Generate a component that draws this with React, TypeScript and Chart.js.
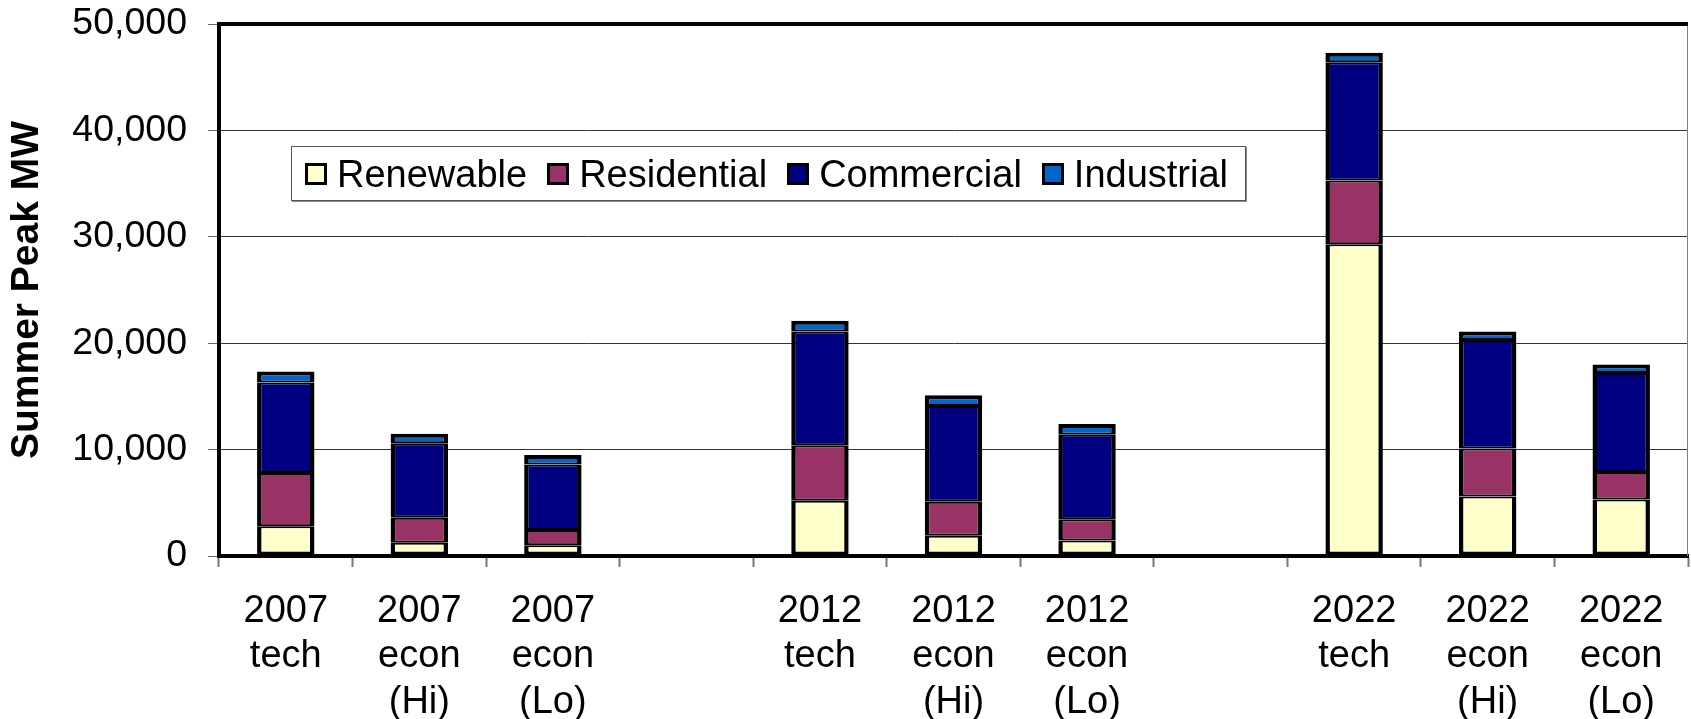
import React, { useEffect, useRef } from "react";
import { Chart, registerables } from "chart.js";

Chart.register(...registerables);

const categories: (string | string[])[] = [
  ["2007", "tech"],
  ["2007", "econ", "(Hi)"],
  ["2007", "econ", "(Lo)"],
  "",
  ["2012", "tech"],
  ["2012", "econ", "(Hi)"],
  ["2012", "econ", "(Lo)"],
  "",
  ["2022", "tech"],
  ["2022", "econ", "(Hi)"],
  ["2022", "econ", "(Lo)"],
];

const renewable = [2800, 1250, 1000, null, 5200, 1900, 1450, null, 29300, 5600, 5300];
const residential = [5000, 2350, 1450, null, 5200, 3200, 2000, null, 6000, 4500, 2600];
const commercial = [8500, 7000, 6150, null, 10700, 9000, 7950, null, 11100, 10200, 9300];
const industrial = [1050, 900, 900, null, 1000, 1000, 1000, null, 900, 800, 800];

const seriesNames = ["Renewable", "Residential", "Commercial", "Industrial"];
const seriesColors = ["#FFFFCC", "#993366", "#000080", "#0066CC"];

const yTicks = [0, 10000, 20000, 30000, 40000, 50000];
const yTitle = "Summer Peak MW";

const FONT = "'Liberation Sans', Arial, sans-serif";

const frame = {
  id: "frame",
  afterDraw(chart: any) {
    const { ctx, chartArea } = chart;
    const { left, top, right, bottom } = chartArea;
    ctx.save();
    ctx.strokeStyle = "#808080";
    ctx.lineWidth = 1;
    ctx.beginPath();
    ctx.moveTo(right - 0.5, top);
    ctx.lineTo(right - 0.5, bottom);
    ctx.stroke();
    ctx.strokeStyle = "#000";
    ctx.lineWidth = 4;
    ctx.beginPath();
    ctx.moveTo(left - 2, top);
    ctx.lineTo(right, top);
    ctx.stroke();
    ctx.restore();
  },
};

export default function App() {
  const ref = useRef<HTMLCanvasElement>(null);

  useEffect(() => {
    if (!ref.current) return;
    const series = [renewable, residential, commercial, industrial];
    const chart = new Chart(ref.current, {
      type: "bar",
      data: {
        labels: categories,
        datasets: series.map((d, i) => ({
          label: seriesNames[i],
          data: d,
          backgroundColor: seriesColors[i],
          borderColor: "#000",
          borderWidth: {
            top: i === 3 ? 4 : 2,
            bottom: i === 0 ? 4 : 2,
            left: 4.5,
            right: 4.5,
          },
          borderSkipped: false,
          barPercentage: 0.43,
          categoryPercentage: 1,
        })),
      },
      options: {
        responsive: false,
        animation: false,
        layout: { padding: { top: 24, right: 3, bottom: 0, left: 0 } },
        plugins: {
          legend: { display: false },
          tooltip: { enabled: false },
        },
        scales: {
          x: {
            stacked: true,
            grid: {
              offset: true,
              drawOnChartArea: false,
              tickLength: 11,
              tickColor: "#777",
              tickWidth: 2,
            },
            border: { color: "#000", width: 4 },
            ticks: {
              color: "#000",
              padding: 22,
              maxRotation: 0,
              autoSkip: false,
              font: { family: FONT, size: 38, lineHeight: 1.19 },
            },
            afterFit: (scale: any) => {
              scale.height = 163;
            },
          },
          y: {
            stacked: true,
            min: 0,
            max: 50000,
            afterBuildTicks: (scale: any) => {
              scale.ticks = yTicks.map((v) => ({ value: v }));
            },
            grid: {
              color: "#333",
              lineWidth: 1,
              tickLength: 11,
              tickColor: "#666",
              tickWidth: 1,
            },
            border: { color: "#000", width: 4 },
            ticks: {
              color: "#000",
              padding: 21,
              font: { family: FONT, size: 37.5 },
              callback: (v: any) => Number(v).toLocaleString("en-US"),
            },
            title: {
              display: true,
              text: yTitle,
              color: "#000",
              font: { family: FONT, size: 39, weight: "bold" },
              padding: { top: 4, bottom: 0 },
            },
            afterFit: (scale: any) => {
              scale.width = 219;
              scale.paddingTop = 0;
              scale.paddingBottom = 0;
            },
          },
        },
      },
      plugins: [frame],
    });
    return () => chart.destroy();
  }, []);

  return (
    <div style={{ position: "absolute", left: 0, top: 0, width: 1691, height: 719, background: "#fff" }}>
      <canvas ref={ref} width={1691} height={719} style={{ display: "block" }} />
      <div
        style={{
          position: "absolute",
          left: 291,
          top: 146,
          width: 955,
          height: 55,
          boxSizing: "border-box",
          border: "1px solid #555",
          boxShadow: "1px 1px 0 #888",
          background: "#fff",
          display: "flex",
          alignItems: "center",
          paddingLeft: 13,
          fontFamily: FONT,
          fontSize: 38,
          color: "#000",
          lineHeight: 1,
        }}
      >
        {seriesNames.map((n, i) => (
          <div key={n} style={{ display: "flex", alignItems: "center", marginRight: 20 }}>
            <span
              style={{
                display: "inline-block",
                width: 22,
                height: 22,
                boxSizing: "border-box",
                border: "3px solid #000",
                background: seriesColors[i],
                marginRight: 10,
              }}
            />
            <span>{n}</span>
          </div>
        ))}
      </div>
    </div>
  );
}
